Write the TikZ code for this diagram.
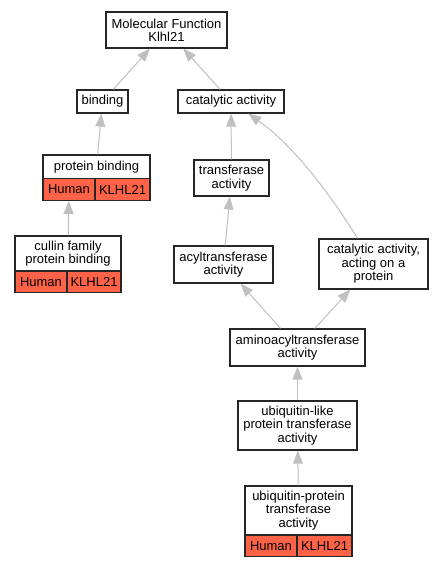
\documentclass[tikz,border=0pt]{standalone}
\usepackage{fontspec}
\setmainfont{Liberation Sans}
\usepackage{tikz}
\usetikzlibrary{arrows.meta}
\definecolor{tomato}{RGB}{255,99,71}
\definecolor{edgegray}{RGB}{192,192,192}

\begin{document}
\begin{tikzpicture}[x=1pt,y=-1pt,
          term/.style={draw=black!85,line width=1.2pt,fill=white,inner sep=0pt,align=center,
                       font=\fontsize{13}{13.4}\selectfont},
          spec/.style={draw=black!85,line width=1.2pt,fill=tomato,inner sep=0pt,minimum height=21.5pt,
                       font=\fontsize{13}{13.4}\selectfont},
          edge/.style={edgegray,line width=1pt,-{Triangle[length=13pt,width=10pt]}}]
          \useasboundingbox (0,0) rectangle (443,568);
          % terms
          \node[term,minimum width=121pt,minimum height=36pt] (mf) at (166.5,30) {Molecular Function\\Klhl21};
          \node[term,minimum width=51pt,minimum height=23pt] (bind) at (102.5,101.5) {binding};
          \node[term,minimum width=106pt,minimum height=23pt] (cat) at (231,101.5) {catalytic activity};
          \node[term,minimum width=107pt,minimum height=24pt] (pbind) at (96.5,167) {protein binding};
          \node[spec,minimum width=52pt] (pbhuman) at (69,189.5) {Human};
          \node[spec,minimum width=55pt] (pbgene) at (122.5,189.5) {KLHL21};
          \node[term,minimum width=75pt,minimum height=36pt] (trans) at (231.5,178) {transferase\\activity};
          \node[term,minimum width=106pt,minimum height=35pt] (cullin) at (68,253.5) {cullin family\\protein binding};
          \node[spec,minimum width=52pt] (cuhuman) at (41,282) {Human};
          \node[spec,minimum width=54pt] (cugene) at (94,282) {KLHL21};
          \node[term,minimum width=99pt,minimum height=37pt] (acyl) at (223.5,264.5) {acyltransferase\\activity};
          \node[term,minimum width=109pt,minimum height=50pt] (catprot) at (373.5,264) {catalytic activity,\\acting on a\\protein};
          \node[term,minimum width=135pt,minimum height=37pt] (amino) at (297.5,347.5) {aminoacyltransferase\\activity};
          \node[term,minimum width=119pt,minimum height=49pt] (ublike) at (297.5,425.5) {ubiquitin-like\\protein transferase\\activity};
          \node[term,minimum width=107pt,minimum height=49pt] (ubprot) at (298.5,510.5) {ubiquitin-protein\\transferase\\activity};
          \node[spec,minimum width=52pt] (ubhuman) at (271,546) {Human};
          \node[spec,minimum width=55pt] (ubgene) at (324.5,546) {KLHL21};
          % is_a edges
          \draw[edge] (bind) -- (mf);
          \draw[edge] (cat) -- (mf);
          \draw[edge] (pbind) -- (bind);
          \draw[edge] (trans) -- (cat);
          \draw[edge] (catprot) .. controls (340,210) and (300,150) .. (cat);
          \draw[edge] (cullin) -- (pbhuman);
          \draw[edge] (acyl) -- (trans);
          \draw[edge] (amino) -- (acyl);
          \draw[edge] (amino) -- (catprot);
          \draw[edge] (ublike) -- (amino);
          \draw[edge] (ubprot) -- (ublike);
\end{tikzpicture}
\end{document}
